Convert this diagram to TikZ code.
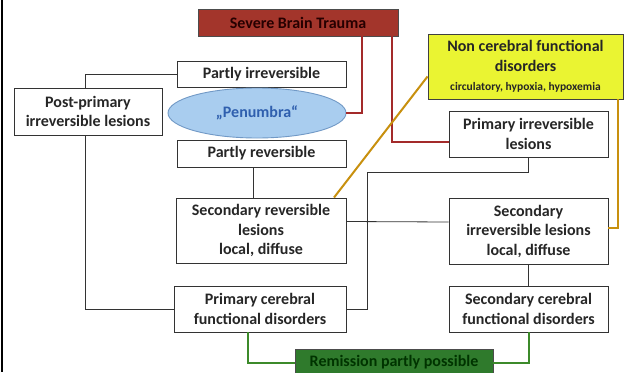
\documentclass[tikz,border=0pt]{standalone}
\usepackage{fontspec}
\setmainfont{Carlito}
\usetikzlibrary{shapes.geometric}
\definecolor{traumared}{HTML}{A3352B}
\definecolor{linered}{HTML}{A32A2A}
\definecolor{penfill}{HTML}{A9CDEF}
\definecolor{pendraw}{HTML}{7199C6}
\definecolor{pentext}{HTML}{2F5FAE}
\definecolor{ncfill}{HTML}{EAF432}
\definecolor{lineorange}{HTML}{C8900E}
\definecolor{remgreen}{HTML}{2F7A2C}
\definecolor{linegreen}{HTML}{3C8A2A}
\begin{document}
\begin{tikzpicture}[x=1pt, y=-1pt,
  every node/.style={inner sep=0pt, align=center, font=\bfseries\fontsize{16}{19.5}\selectfont, text=black!85},
  box/.style={draw=black!80, line width=0.9pt, fill=white},
  link/.style={draw=black!80, line width=0.8pt},
  redlink/.style={draw=linered, line width=2pt},
  orangelink/.style={draw=lineorange, line width=2pt},
  greenlink/.style={draw=linegreen, line width=2pt}]
\clip (0,0) rectangle (631,372);
\fill[white] (0,0) rectangle (631,372);
\draw[line width=2.5pt] (1.8,0) -- (1.8,372);

% top: trauma and penumbra
\node[draw=black!70, fill=traumared, line width=0.9pt, minimum width=200pt, minimum height=27pt, text=black!85!red] (sbt) at (298,22.5) {Severe Brain Trauma};
\node[box, minimum width=169pt, minimum height=26pt] (pirr) at (261.5,74) {Partly irreversible};
\node[box, minimum width=148pt, minimum height=47pt] (post) at (88,111.5) {Post-primary\\irreversible lesions};
\node[ellipse, draw=pendraw, fill=penfill, line width=0.9pt, minimum width=178pt, minimum height=50pt, text=pentext] (pen) at (257,113) {„Penumbra“};
\node[box, minimum width=169pt, minimum height=27pt] (prev) at (261.5,153.5) {Partly reversible};

% right column
\node[draw=black!75, fill=ncfill, line width=0.9pt, minimum width=195pt, minimum height=65pt] (noncer) at (525.5,66.5) {Non cerebral functional\\disorders\\{\fontsize{11.5}{13}\selectfont circulatory, hypoxia, hypoxemia}};
\node[box, minimum width=159pt, minimum height=46pt] (pil) at (528.5,134) {Primary irreversible\\lesions};

% secondary lesions
\node[box, minimum width=170pt, minimum height=65pt] (srev) at (261,230.5) {Secondary reversible\\lesions\\local, diffuse};
\node[box, minimum width=159pt, minimum height=66pt] (sirr) at (528.5,231) {Secondary\\irreversible lesions\\local, diffuse};

% functional disorders
\node[box, minimum width=172pt, minimum height=46pt] (pcer) at (260,309) {Primary cerebral\\functional disorders};
\node[box, minimum width=159pt, minimum height=46pt] (scer) at (528.5,309) {Secondary cerebral\\functional disorders};
\node[draw=black!70, fill=remgreen, line width=0.9pt, minimum width=198pt, minimum height=27pt, text=black!80!green] (rem) at (394,362.5) {Remission partly possible};

% connectors
\draw[redlink] (sbt.south) ++(64,0) |- (pen.east);
\draw[redlink] (sbt.south) ++(94,0) |- ([yshift=-8pt]pil.west);
\draw[link] (pirr.west) -| ([xshift=-3pt]post.north);
\draw[link] ([xshift=-3pt]post.south) |- (pcer.west);
\draw[link] ([xshift=-8pt]prev.south) -- ([xshift=-8pt]prev.south |- srev.north);
\draw[link] (pil.south) -- ++(0,15) -| ([xshift=21pt]pcer.east) -- (pcer.east);
\draw[link] ([yshift=9pt]srev.east) -- ([yshift=9pt]sirr.west);
\draw[link] (sirr.south) -- (scer.north);
\draw[orangelink] ([yshift=-10pt]noncer.west) -- ([xshift=73pt]srev.north);
\draw[orangelink] ([xshift=-5pt]noncer.south east) |- ([yshift=3pt]sirr.east);
\draw[greenlink] ([xshift=-12pt]pcer.south) |- (rem.west);
\draw[greenlink] (rem.east) -| (scer.south);
\end{tikzpicture}
\end{document}
